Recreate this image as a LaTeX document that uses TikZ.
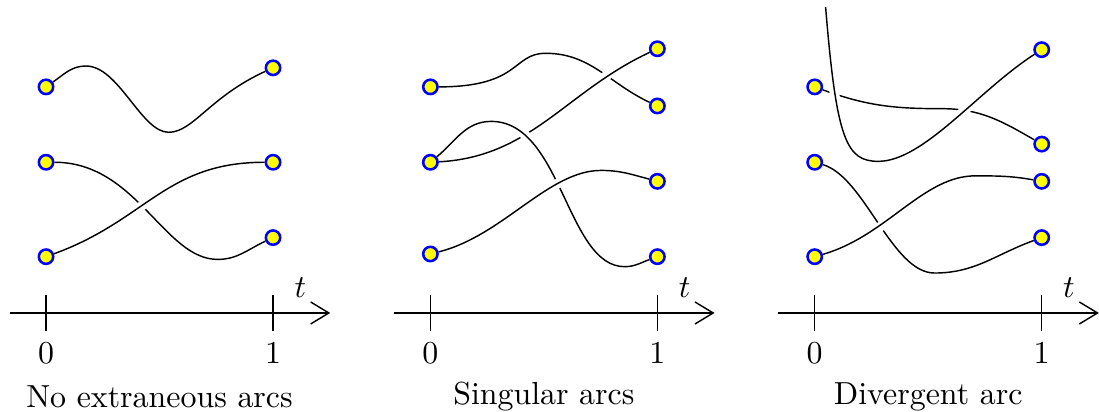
\documentclass[tikz,border=0pt]{standalone}
\usepackage{xcolor}
\definecolor{ptdot}{HTML}{FFFF00}
\definecolor{ptring}{HTML}{0000FF}
\usepackage{tikz}
\usetikzlibrary{arrows.meta,backgrounds}
\tikzset{
  arcend/.style  ={circle, draw=ptring, fill=ptdot, line width=0.8pt,
                   minimum size=4.5pt, inner sep=0pt},
  arcline/.style ={line width=0.45pt, draw=black},
  arcover/.style ={arcline, preaction={draw=white, line width=3pt,
                   shorten <=4pt, shorten >=4pt}},
  taxis/.style   ={line width=0.45pt, -{Straight Barb[length=5.7pt,width=6.9pt]}},
  ttick/.style   ={line width=0.45pt},
}

\begin{document}
\begin{tikzpicture}
  \useasboundingbox (-0.507,-1.090) rectangle (11.597,3.447);

  % no extraneous arcs
  \begin{scope}
    \draw[taxis] (-0.4,0) -- (3.13,0);
    \draw[ttick] (0,0.2) -- (0,-0.2) node[below] (a0) {$0$};
    \draw[ttick] (2.5,0.2) -- (2.5,-0.2) node[below] (a1) {$1$};
    \node (at) at (2.8,0.28) {$t$};
    \node (acap) at (1.25,-0.92) {No extraneous arcs};
    \node[arcend] (al1) at (0,2.49) {};
    \node[arcend] (al2) at (0,1.66) {};
    \node[arcend] (al3) at (0,0.62) {};
    \node[arcend] (ar1) at (2.5,2.70) {};
    \node[arcend] (ar2) at (2.5,1.66) {};
    \node[arcend] (ar3) at (2.5,0.83) {};
    \begin{scope}[on background layer]
      \draw[arcline] (al1) to[out=35,in=180] (0.44,2.72)
                     .. controls (0.8,2.72) and (1.05,1.99) .. (1.35,1.99)
                     .. controls (1.62,1.99) and (1.8,2.38) .. (ar1);
      \draw[arcline] (al2) .. controls (1.0,1.66) and (1.3,0.59) .. (1.89,0.59)
                     to[out=0,in=205] (ar3);
      \draw[arcover] (al3) to[out=20,in=180,looseness=1.1] (ar2);
    \end{scope}
  \end{scope}

  % singular arcs
  \begin{scope}[xshift=4.233cm]
    \draw[taxis] (-0.4,0) -- (3.13,0);
    \draw[ttick] (0,0.2) -- (0,-0.2) node[below] (b0) {$0$};
    \draw[ttick] (2.5,0.2) -- (2.5,-0.2) node[below] (b1) {$1$};
    \node (bt) at (2.8,0.28) {$t$};
    \node (bcap) at (1.25,-0.92) {Singular arcs};
    \node[arcend] (bl1) at (0,2.49) {};
    \node[arcend] (bl2) at (0,1.66) {};
    \node[arcend] (bl3) at (0,0.65) {};
    \node[arcend] (br1) at (2.5,2.91) {};
    \node[arcend] (br2) at (2.5,2.28) {};
    \node[arcend] (br3) at (2.5,1.45) {};
    \node[arcend] (br4) at (2.5,0.62) {};
    \begin{scope}[on background layer]
      \draw[arcline] (bl1) .. controls (1.0,2.49) and (0.9,2.86) .. (1.27,2.86)
                     to[out=0,in=155] (br2);
      \draw[arcover] (bl2) to[out=3,in=205] (br1);
      \draw[arcover] (bl2) to[out=40,in=180] (0.67,2.11)
                     .. controls (1.45,2.11) and (1.5,0.51) .. (2.14,0.51)
                     to[out=0,in=200] (br4);
      \draw[arcover] (bl3) .. controls (0.8,0.85) and (1.3,1.57) .. (1.88,1.57)
                     to[out=0,in=165] (br3);
    \end{scope}
  \end{scope}

  % divergent arc
  \begin{scope}[xshift=8.466cm]
    \draw[taxis] (-0.4,0) -- (3.13,0);
    \draw[ttick] (0,0.2) -- (0,-0.2) node[below] (c0) {$0$};
    \draw[ttick] (2.5,0.2) -- (2.5,-0.2) node[below] (c1) {$1$};
    \node (ct) at (2.8,0.28) {$t$};
    \node (ccap) at (1.25,-0.92) {Divergent arc};
    \node[arcend] (cl1) at (0,2.49) {};
    \node[arcend] (cl2) at (0,1.66) {};
    \node[arcend] (cl3) at (0,0.62) {};
    \node[arcend] (cr1) at (2.5,2.90) {};
    \node[arcend] (cr2) at (2.5,1.86) {};
    \node[arcend] (cr3) at (2.5,1.45) {};
    \node[arcend] (cr4) at (2.5,0.83) {};
    \coordinate (ctop) at (0.12,3.37);
    \begin{scope}[on background layer]
      \draw[arcline] (cl1) to[out=-20,in=180] (1.4,2.25) to[out=0,in=150] (cr2);
      \draw[arcline] (cl2) .. controls (0.55,1.5) and (0.85,0.44) .. (1.32,0.44)
                     to[out=0,in=200] (cr4);
      \draw[arcover] (cl3) .. controls (0.8,0.85) and (1.2,1.52) .. (1.78,1.51)
                     to[out=0,in=170] (cr3);
      \draw[arcover] (ctop) .. controls (0.24,1.9) and (0.35,1.67) .. (0.70,1.67)
                     .. controls (1.2,1.67) and (1.8,2.45) .. (cr1);
    \end{scope}
  \end{scope}
\end{tikzpicture}
\end{document}
